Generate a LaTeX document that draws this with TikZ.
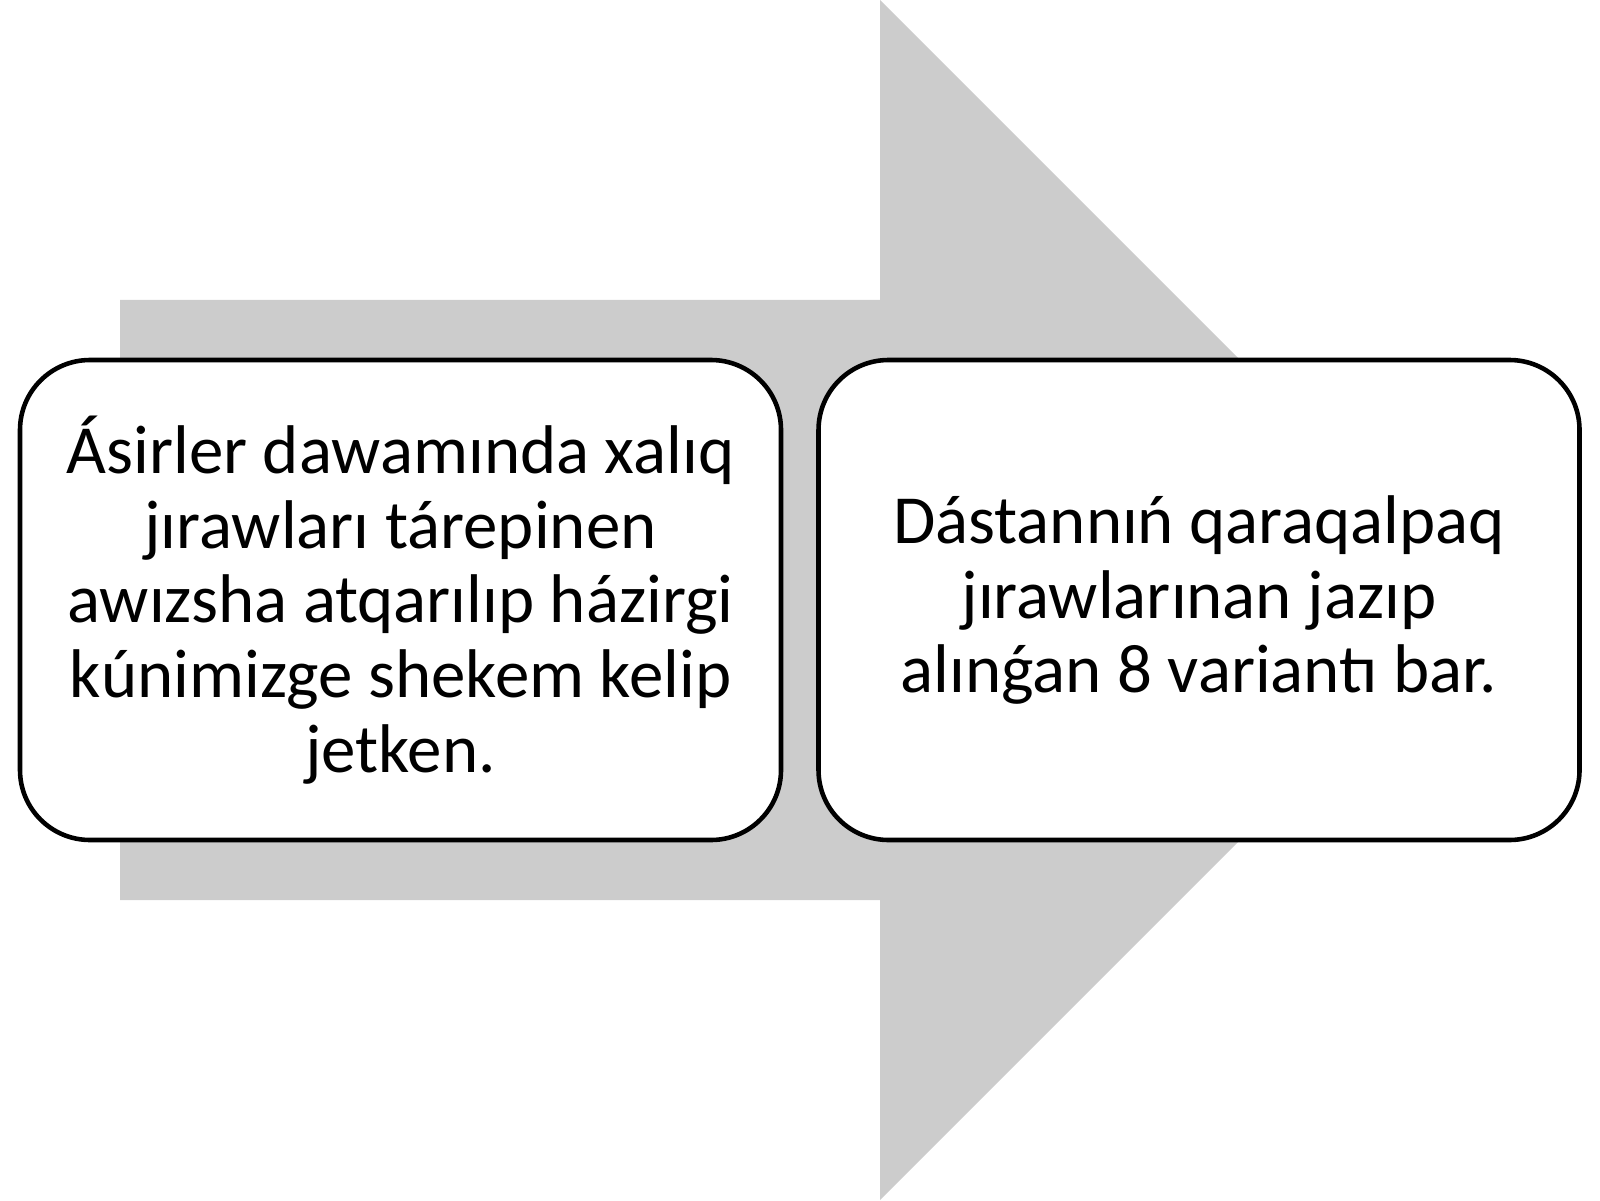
\documentclass[tikz,border=0pt]{standalone}
\usepackage{fontspec}
\setmainfont{Carlito}
\definecolor{arrowgray}{HTML}{CCCCCC}

\begin{document}
\begin{tikzpicture}

        \useasboundingbox (0,0) rectangle (16,12);

        % big arrow behind the boxes
        \fill[arrowgray] (1.2,9) -- (8.8,9) -- (8.8,12) -- (14.8,6)
          -- (8.8,0) -- (8.8,3) -- (1.2,3) -- cycle;

        \begin{scope}[every node/.style={draw, line width=1.3pt, fill=white,
            rounded corners=0.7cm, minimum width=7.61cm, minimum height=4.8cm,
            align=center, font=\fontsize{19.6pt}{21.3pt}\selectfont}]
          \node (left)  at (4.005,6) {Ásirler dawamında xalıq\\
            jırawları tárepinen\\ awızsha atqarılıp házirgi\\
            kúnimizge shekem kelip\\ jetken.};
          \node (right) at (11.99,6) {Dástannıń qaraqalpaq\\
            jırawlarınan jazıp\\ alınǵan 8 variantı bar.};
        \end{scope}

      \end{tikzpicture}
\end{document}
